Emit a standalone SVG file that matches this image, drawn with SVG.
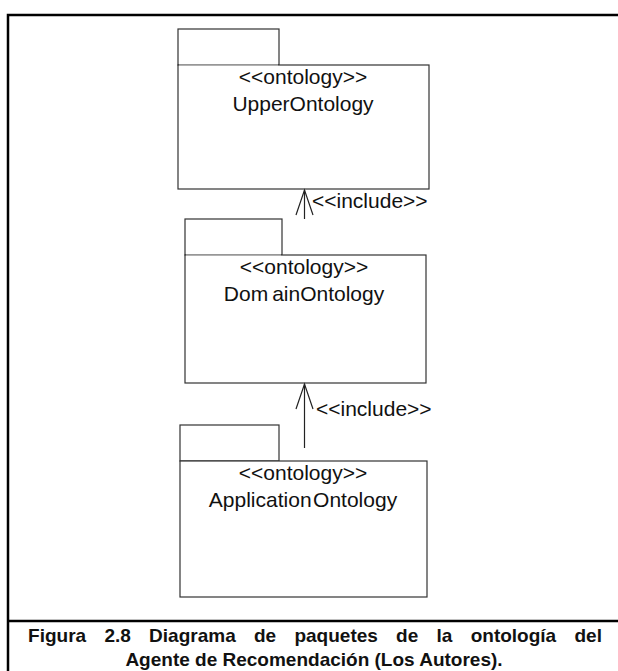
<svg xmlns="http://www.w3.org/2000/svg" width="618" height="671" viewBox="0 0 618 671">
  <style>
    .frame { fill: none; stroke: #000; stroke-width: 2.5; }
    .tab, .body { fill: #fff; stroke: #333; stroke-width: 1.2; }
    .seam { stroke: #ddd; stroke-width: 1; }
    .lbl { font-family: "Liberation Sans", Arial, sans-serif; font-size: 21px; fill: #111; text-anchor: middle; }
    .inc { font-family: "Liberation Sans", Arial, sans-serif; font-size: 21px; fill: #111; }
    .conn { fill: none; stroke: #222; stroke-width: 1.2; }
    .cap { font-family: "Liberation Sans", Arial, sans-serif; font-size: 19px; font-weight: bold; fill: #111; text-anchor: middle; }
  </style>

  <!-- outer frame and caption separator -->
  <path class="frame" d="M8,671 V15 H618"/>
  <line class="frame" x1="8" y1="621" x2="618" y2="621" stroke-width="2"/>

  <!-- packages -->
  <g id="upper-ontology">
    <rect class="tab" x="178" y="29" width="101" height="36"/>
    <rect class="body" x="178" y="65" width="251" height="124"/>
    <line class="seam" x1="179" y1="65" x2="278" y2="65"/>
    <text class="lbl" x="303" y="84">&lt;&lt;ontology&gt;&gt;</text>
    <text class="lbl" x="303" y="111">UpperOntology</text>
  </g>

  <g id="domain-ontology">
    <rect class="tab" x="185" y="219" width="97" height="36"/>
    <rect class="body" x="185" y="255" width="241" height="128"/>
    <line class="seam" x1="186" y1="255" x2="281" y2="255"/>
    <text class="lbl" x="304" y="274">&lt;&lt;ontology&gt;&gt;</text>
    <text class="lbl" x="304" y="301">Dom<tspan dx="4">ainOntology</tspan></text>
  </g>

  <g id="application-ontology">
    <rect class="tab" x="180" y="425" width="99" height="36"/>
    <rect class="body" x="180" y="461" width="247" height="136"/>
    <text class="lbl" x="303" y="480">&lt;&lt;ontology&gt;&gt;</text>
    <text class="lbl" x="303" y="507">Application<tspan dx="1.5">Ontology</tspan></text>
  </g>

  <!-- include dependencies (open arrowheads) -->
  <g id="connectors">
    <line class="conn" x1="304.5" y1="219" x2="304.5" y2="190"/>
    <path class="conn" d="M296,215 L304.5,190 L313,215"/>
    <text class="inc" x="312" y="208">&lt;&lt;include&gt;&gt;</text>

    <line class="conn" x1="304.5" y1="448" x2="304.5" y2="384"/>
    <path class="conn" d="M296,409 L304.5,384 L313,409"/>
    <text class="inc" x="316" y="416">&lt;&lt;include&gt;&gt;</text>
  </g>

  <!-- caption -->
  <g id="caption">
    <text class="cap" x="315" y="642" word-spacing="13">Figura 2.8 Diagrama de paquetes de la ontología del</text>
    <text class="cap" x="314" y="666">Agente de Recomendación (Los Autores).</text>
  </g>
</svg>
